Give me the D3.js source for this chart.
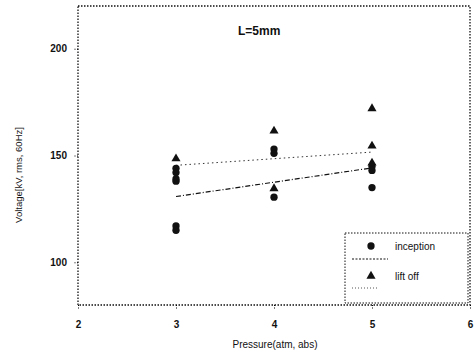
<!DOCTYPE html>
<html>
  <head>
    <script src="https://d3js.org/d3.v7.min.js"></script>
    <style>
      body { margin: 0; background: #fff; }
      text { font-family: "Liberation Sans", Arial, sans-serif; fill: #111; }
    </style>
  </head>
  <body>
    <svg width="474" height="354"></svg>
    <script>
      // measured points
      const inceptionX = [3, 3, 3, 3, 3, 3, 4, 4, 4, 5, 5, 5];
      const inceptionY = [144, 142, 139, 138, 117, 115, 153, 151, 130.5, 145, 143, 135];
      const liftoffX = [3, 4, 4, 5, 5, 5];
      const liftoffY = [148.5, 161.5, 134.5, 172, 154.5, 146.5];
      // fit lines (end points)
      const inceptionFitX = [3, 5];
      const inceptionFitY = [130.8, 144.2];
      const liftoffFitX = [3, 5];
      const liftoffFitY = [145.4, 151.6];
      const xTicks = [2, 3, 4, 5, 6];
      const yTicks = [100, 150, 200];

      const svg = d3.select("svg");
      const mLeft = 78, mRight = 470, mTop = 6, mBottom = 305;

      const x = d3.scaleLinear().domain([2, 6]).range([mLeft, mRight]);
      const y = d3.scaleLinear().domain([80, 220]).range([mBottom, mTop]);

      // frame
      svg.append("rect")
        .attr("x", mLeft).attr("y", mTop)
        .attr("width", mRight - mLeft).attr("height", mBottom - mTop)
        .attr("fill", "none").attr("stroke", "#111")
        .attr("stroke-width", 1.3).attr("stroke-dasharray", "1.5,1.5");

      const yAxis = svg.append("g")
        .attr("transform", `translate(${mLeft},0)`)
        .call(d3.axisLeft(y).tickValues(yTicks).tickFormat(d3.format("d")).tickSize(4).tickPadding(7));
      yAxis.select(".domain").remove();
      yAxis.selectAll("line").attr("stroke-dasharray", "1,1.5");
      yAxis.selectAll("text").style("font-size", "10px").attr("font-weight", "bold");

      const xAxis = svg.append("g")
        .attr("transform", `translate(0,${mBottom})`)
        .call(d3.axisBottom(x).tickValues(xTicks).tickFormat(d3.format("d")).tickSize(4).tickPadding(12));
      xAxis.select(".domain").remove();
      xAxis.selectAll("line").attr("stroke-dasharray", "1,1.5");
      xAxis.selectAll("text").style("font-size", "10px").attr("font-weight", "bold");

      // fit lines
      const line = d3.line().x(d => x(d[0])).y(d => y(d[1]));
      svg.append("path")
        .attr("d", line(d3.zip(inceptionFitX, inceptionFitY)))
        .attr("fill", "none").attr("stroke", "#111").attr("stroke-width", 1.2)
        .attr("stroke-dasharray", "5,2,1,2");
      svg.append("path")
        .attr("d", line(d3.zip(liftoffFitX, liftoffFitY)))
        .attr("fill", "none").attr("stroke", "#333").attr("stroke-width", 1)
        .attr("stroke-dasharray", "1.5,3");

      const circ = d3.symbol().type(d3.symbolCircle).size(42);
      const tri = d3.symbol().type(d3.symbolTriangle).size(36);

      svg.append("g").selectAll("path")
        .data(d3.zip(inceptionX, inceptionY))
        .join("path")
        .attr("d", circ)
        .attr("transform", d => `translate(${x(d[0])},${y(d[1])})`)
        .attr("fill", "#111");

      svg.append("g").selectAll("path")
        .data(d3.zip(liftoffX, liftoffY))
        .join("path")
        .attr("d", tri)
        .attr("transform", d => `translate(${x(d[0])},${y(d[1])})`)
        .attr("fill", "#111");

      // title
      svg.append("text")
        .attr("x", 238).attr("y", 35)
        .style("font-size", "12px").attr("font-weight", "bold")
        .text("L=5mm");

      // axis titles
      svg.append("text")
        .attr("x", 275).attr("y", 348)
        .attr("text-anchor", "middle")
        .style("font-size", "10px")
        .text("Pressure(atm, abs)");
      svg.append("text")
        .attr("transform", "translate(22,175) rotate(-90)")
        .attr("text-anchor", "middle")
        .style("font-size", "9.5px")
        .text("Voltage[kV, rms, 60Hz]");

      // legend
      const lg = svg.append("g");
      lg.append("rect")
        .attr("x", 345).attr("y", 233).attr("width", 123).attr("height", 70)
        .attr("fill", "#fff").attr("stroke", "#111")
        .attr("stroke-width", 1).attr("stroke-dasharray", "1.5,1.5");
      lg.append("path").attr("d", circ).attr("transform", "translate(371,246)").attr("fill", "#111");
      lg.append("text").attr("x", 395).attr("y", 250).style("font-size", "10px").text("inception");
      lg.append("line").attr("x1", 352).attr("x2", 388).attr("y1", 259).attr("y2", 259)
        .attr("stroke", "#111").attr("stroke-dasharray", "2,1.5");
      lg.append("path").attr("d", tri).attr("transform", "translate(371,276)").attr("fill", "#111");
      lg.append("text").attr("x", 395).attr("y", 280).style("font-size", "10px").text("lift off");
      lg.append("line").attr("x1", 352).attr("x2", 378).attr("y1", 288).attr("y2", 288)
        .attr("stroke", "#555").attr("stroke-dasharray", "1,2");
    </script>
  </body>
</html>
